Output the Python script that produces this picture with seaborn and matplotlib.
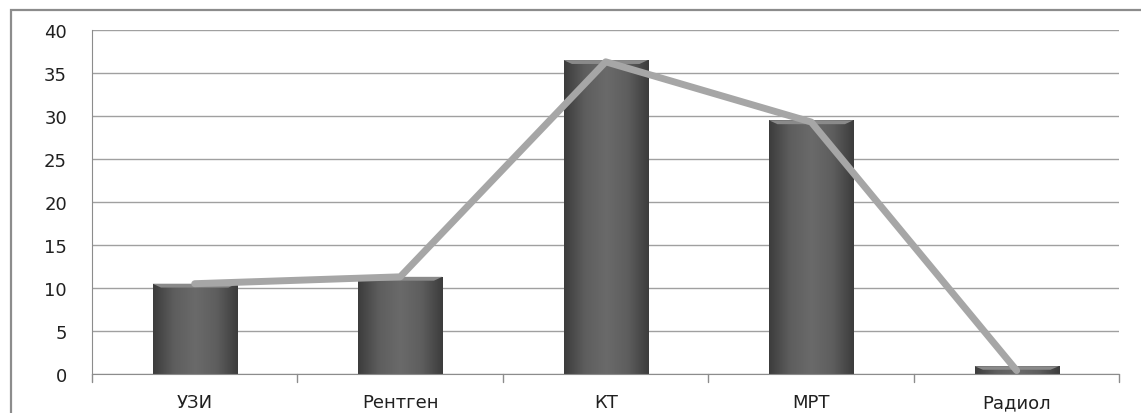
import matplotlib
matplotlib.use("Agg")
import matplotlib.pyplot as plt
import seaborn as sns
import pandas as pd
import numpy as np
from matplotlib.patches import Rectangle, Polygon
from matplotlib.colors import LinearSegmentedColormap

# Число исследований по методам визуализации
methods = ["УЗИ", "Рентген", "КТ", "МРТ", "Радиол"]
bar_values = [10.5, 11.3, 36.5, 29.5, 0.9]
line_values = [10.5, 11.3, 36.3, 29.3, 0.4]
y_ticks = [0, 5, 10, 15, 20, 25, 30, 35, 40]

df = pd.DataFrame({"method": methods, "value": bar_values})

sns.set_style("white")
plt.rcParams["font.family"] = ["DejaVu Sans"]

fig = plt.figure(figsize=(11.41, 4.14), dpi=100)
ax = fig.add_axes([0.0806, 0.0942, 0.9005, 0.8309])

# outer chart frame
fig.patches.append(Rectangle((0.0096, -0.05), 1.2, 1.0234, transform=fig.transFigure,
                             fill=False, edgecolor="#8c8c8c", linewidth=1.6, zorder=0))

sns.barplot(data=df, x="method", y="value", color="#606060", width=0.41,
            edgecolor="#3a3a3a", linewidth=0.6, saturation=1, ax=ax, zorder=2)

# cylinder-like shading across each bar plus a bevelled top edge
shade = LinearSegmentedColormap.from_list(
    "bar_shade", ["#3c3c3c", "#5e5e5e", "#6a6a6a", "#5e5e5e", "#3c3c3c"])
grad = np.linspace(0, 1, 256).reshape(1, -1)
for patch in list(ax.patches):
    x0, w, h = patch.get_x(), patch.get_width(), patch.get_height()
    im = ax.imshow(grad, cmap=shade, aspect="auto", extent=(x0, x0 + w, 0, h),
                   zorder=2.5, interpolation="bicubic")
    im.set_clip_path(patch)
    bevel = min(0.45, h * 0.45)
    inset = w * 0.1
    ax.add_patch(Polygon([(x0, h), (x0 + w, h), (x0 + w - inset, h - bevel),
                          (x0 + inset, h - bevel)], closed=True,
                         facecolor="#8a8a8a", edgecolor="none", zorder=3))
ax.set_aspect("auto")

sns.lineplot(x=np.arange(len(methods)), y=line_values, color="#a6a6a6",
             linewidth=5.0, ax=ax, zorder=4)

ax.set_xlim(-0.5, len(methods) - 0.5)
ax.set_ylim(0, 40)
ax.set_yticks(y_ticks)
ax.set_yticklabels([str(t) for t in y_ticks], fontsize=13, color="#202020")
ax.set_xticks(range(len(methods)))
ax.set_xticklabels(methods, fontsize=13, color="#202020")
ax.tick_params(axis="x", length=0, pad=14)
ax.tick_params(axis="y", length=6, color="#8c8c8c", width=1, pad=12, direction="out")

# category boundary ticks under the x-axis
for b in np.arange(-0.5, len(methods) + 0.5, 1.0):
    ax.plot([b, b], [0, -0.9], color="#8c8c8c", linewidth=1, clip_on=False, zorder=1)

ax.yaxis.grid(True, color="#a0a0a0", linewidth=1)
ax.set_axisbelow(True)
for side in ["top", "right"]:
    ax.spines[side].set_visible(False)
ax.spines["left"].set_color("#8c8c8c")
ax.spines["bottom"].set_color("#8c8c8c")
ax.set_xlabel("")
ax.set_ylabel("")

fig.savefig("out.png", dpi=100, facecolor="white")
